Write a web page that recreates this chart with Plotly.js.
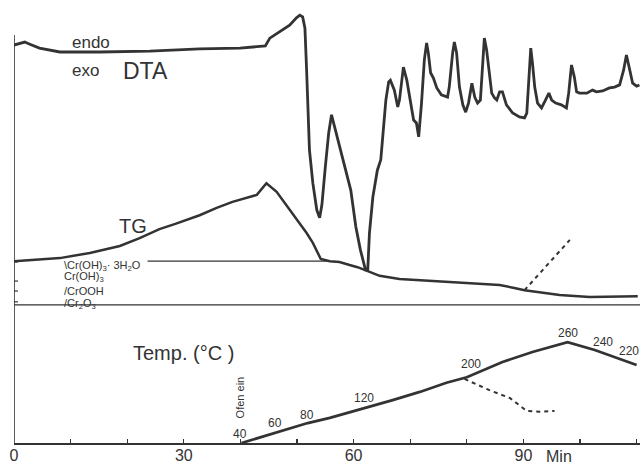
<!DOCTYPE html>
<html>
<head>
<meta charset="utf-8">
<script src="https://cdn.plot.ly/plotly-3.0.1.min.js"></script>
<style>html,body{margin:0;padding:0;background:#fff;}#chart{width:644px;height:465px;}</style>
</head>
<body>
<div id="chart"></div>
<script>
// Time in minutes; signals in arbitrary recorder deflection (0-100)
var dtaTime = [0,0.6,1.9,2.8,4.5,8.1,15.1,24.0,32.8,39.9,43.7,44.4,45.2,46.0,46.9,48.7,49.9,50.5,51.0,51.4,51.7,51.9,52.2,52.8,53.5,54.0,54.4,55.0,55.6,56.1,56.8,58.4,59.5,60.4,61.2,62.1,62.5,62.8,63.4,64.2,64.8,65.1,65.7,66.2,66.5,67.2,67.8,68.1,68.7,68.8,69.4,70.1,70.6,71.1,71.5,72.0,72.5,72.9,73.2,73.6,74.1,74.7,75.5,76.6,76.9,77.5,77.8,78.2,78.7,79.3,79.8,80.3,80.9,81.4,81.9,82.4,82.8,83.1,83.5,84.0,84.4,84.9,85.3,85.8,86.3,87.0,88.1,89.3,90.2,90.6,90.9,91.3,91.6,92.0,92.5,93.2,93.9,94.5,95.0,95.7,96.7,97.6,98.0,98.5,99.0,99.4,99.9,101.2,102.2,102.9,104.0,105.2,106.1,107.0,107.7,108.2,108.8,109.3,110.0,110.5];
var dtaSignal = [91.9,92.1,92.6,92.1,91.2,90.3,90.3,90.5,91.0,91.2,91.5,91.7,93.5,94.2,94.9,96.5,98.2,98.8,98.4,95.8,86.1,79.2,67.7,60.0,53.8,52.0,55.0,63.7,71.6,75.8,72.3,63.7,58.4,49.9,44.6,40.0,40.0,48.5,56.8,63.0,65.4,70.0,79.2,83.4,83.8,81.5,77.6,79.2,86.1,86.8,83.8,78.5,74.6,73.9,70.7,78.5,88.5,92.4,90.1,85.5,84.3,82.0,80.4,79.9,82.2,90.1,92.6,90.1,82.2,78.1,76.4,78.5,83.1,79.9,78.5,79.2,86.1,93.5,90.8,84.5,80.8,79.7,79.2,81.1,81.1,78.1,76.2,75.3,75.1,76.2,82.2,91.2,87.8,82.2,78.5,77.4,79.2,80.8,79.2,78.5,78.1,77.4,80.8,87.3,84.5,81.1,80.8,80.8,81.5,81.1,81.3,82.0,82.2,82.7,86.1,89.6,86.1,83.1,82.4,82.7];

var tgTime = [0,2.8,8.1,13.4,18.7,22.2,25.7,28.5,31.0,32.8,35.8,38.6,42.9,43.7,44.6,46.4,49.2,51.7,52.8,54.2,55.8,57.5,59.3,60.7,62.5,64.6,68.1,75.2,84.0,85.8,88.4,90.2,96.4,101.7,110.2];
var tgSignal = [42.0,42.3,42.7,43.9,45.5,47.3,49.4,50.6,51.7,52.6,54.3,55.7,57.3,58.7,60.0,58.0,53.1,48.5,46.2,42.5,42.0,41.8,41.1,40.6,39.7,38.6,37.9,37.4,36.7,36.5,35.8,35.3,34.2,33.7,33.9];

var tgDashTime = [90.2,98.2];
var tgDashSignal = [35.3,46.9];

var tempTime = [40.2,46.6,51.9,55.8,62.3,66.9,71.7,76.4,80.0,86.3,91.6,97.8,102.6,110.0];
var tempSignal = [0,2.5,4.6,5.8,8.1,9.9,11.8,13.9,15.2,18.7,21.0,23.3,21.5,18.0];

var tempDashTime = [79.6,84.0,87.6,90.6,92.9,95.5];
var tempDashSignal = [14.8,12.2,10.4,7.4,7.2,7.4];

var tempLabels = ["40","60","80","120","200","260","240","220"];
var tempLabelTime = [39.9,46.2,51.7,61.9,80.8,97.8,104.0,108.6];
var tempLabelSignal = [2.1,4.6,6.5,10.4,18.2,25.4,23.3,21.2];

var phaseLabels = ["\\Cr(OH)<sub>3</sub>· 3H<sub>2</sub>O","Cr(OH)<sub>3</sub>","/CrOOH","/Cr<sub>2</sub>O<sub>3</sub>"];
var phaseLevels = [41.8,37.4,35.1,32.6];
var phaseLabelSignal = [40.8,38.4,35.0,32.0];
var phaseLabelTime = 8.4;

var upperRefLevel = 42.0, upperRefStart = 23.6, upperRefEnd = 55.8;
var lowerRefLevel = 31.9;

var ink = "#333333";
var font = "Liberation Sans, Arial, sans-serif";

var traces = [
  {x: dtaTime, y: dtaSignal, mode: "lines", line: {color: ink, width: 2.8}, hoverinfo: "skip"},
  {x: tgTime, y: tgSignal, mode: "lines", line: {color: ink, width: 2.5}, hoverinfo: "skip"},
  {x: tgDashTime, y: tgDashSignal, mode: "lines", line: {color: ink, width: 2, dash: "4px,4px"}, hoverinfo: "skip"},
  {x: tempTime, y: tempSignal, mode: "lines", line: {color: ink, width: 2.7}, hoverinfo: "skip"},
  {x: tempDashTime, y: tempDashSignal, mode: "lines", line: {color: ink, width: 2, dash: "4px,4px"}, hoverinfo: "skip"}
];

var shapes = [
  {type: "line", xref: "x", yref: "y", x0: 0, x1: 0, y0: 0, y1: 94.2, line: {color: ink, width: 1.6}},
  {type: "line", xref: "x", yref: "y", x0: upperRefStart, x1: upperRefEnd, y0: upperRefLevel, y1: upperRefLevel, line: {color: ink, width: 1.4}},
  {type: "line", xref: "x", yref: "y", x0: 0, x1: 110.6, y0: lowerRefLevel, y1: lowerRefLevel, line: {color: ink, width: 1.4}}
];
phaseLevels.forEach(function(v){
  shapes.push({type: "line", xref: "x", yref: "y", x0: 0, x1: 0.7, y0: v, y1: v, line: {color: ink, width: 1.2}});
});

var annotations = [
  {x: 13.6, y: 92.6, text: "endo", showarrow: false, font: {family: font, size: 17, color: ink}},
  {x: 12.6, y: 86.1, text: "exo", showarrow: false, font: {family: font, size: 17, color: ink}},
  {x: 23.3, y: 85.9, text: "DTA", showarrow: false, font: {family: font, size: 23, color: ink}},
  {x: 21.1, y: 50.1, text: "TG", showarrow: false, font: {family: font, size: 20, color: ink}},
  {x: 30.0, y: 20.8, text: "Temp. (°C )", showarrow: false, font: {family: font, size: 20, color: ink}},
  {x: 39.9, y: 10.5, text: "Ofen ein", textangle: -90, showarrow: false, font: {family: font, size: 11, color: ink}},
  {x: 96.3, y: -0.032, xref: "x", yref: "paper", yanchor: "middle", text: "Min", showarrow: false, font: {family: font, size: 16, color: ink}}
];
tempLabels.forEach(function(t, i){
  annotations.push({x: tempLabelTime[i], y: tempLabelSignal[i], text: t, showarrow: false, font: {family: font, size: 12, color: ink}});
});
phaseLabels.forEach(function(t, i){
  annotations.push({x: phaseLabelTime, y: phaseLabelSignal[i], text: t, xanchor: "left", showarrow: false, font: {family: font, size: 11, color: ink}});
});

var layout = {
  width: 644, height: 465,
  margin: {l: 14, r: 4, t: 10, b: 22},
  paper_bgcolor: "#ffffff", plot_bgcolor: "#ffffff",
  showlegend: false,
  xaxis: {range: [0, 110.6], showgrid: false, zeroline: false, showline: true, linecolor: ink, linewidth: 1.6,
          tickmode: "linear", tick0: 0, dtick: 30,
          ticks: "inside", ticklen: 4, tickcolor: ink, tickwidth: 1.2,
          minor: {tickmode: "linear", tick0: 0, dtick: 10, ticks: "inside", ticklen: 4, tickcolor: ink, tickwidth: 1.2, showgrid: false},
          ticklabelstandoff: -3,
          tickfont: {family: font, size: 16, color: ink}, fixedrange: true},
  yaxis: {range: [0, 100], visible: false, fixedrange: true},
  shapes: shapes,
  annotations: annotations
};

Plotly.newPlot("chart", traces, layout, {staticPlot: true, displayModeBar: false});
</script>
</body>
</html>
